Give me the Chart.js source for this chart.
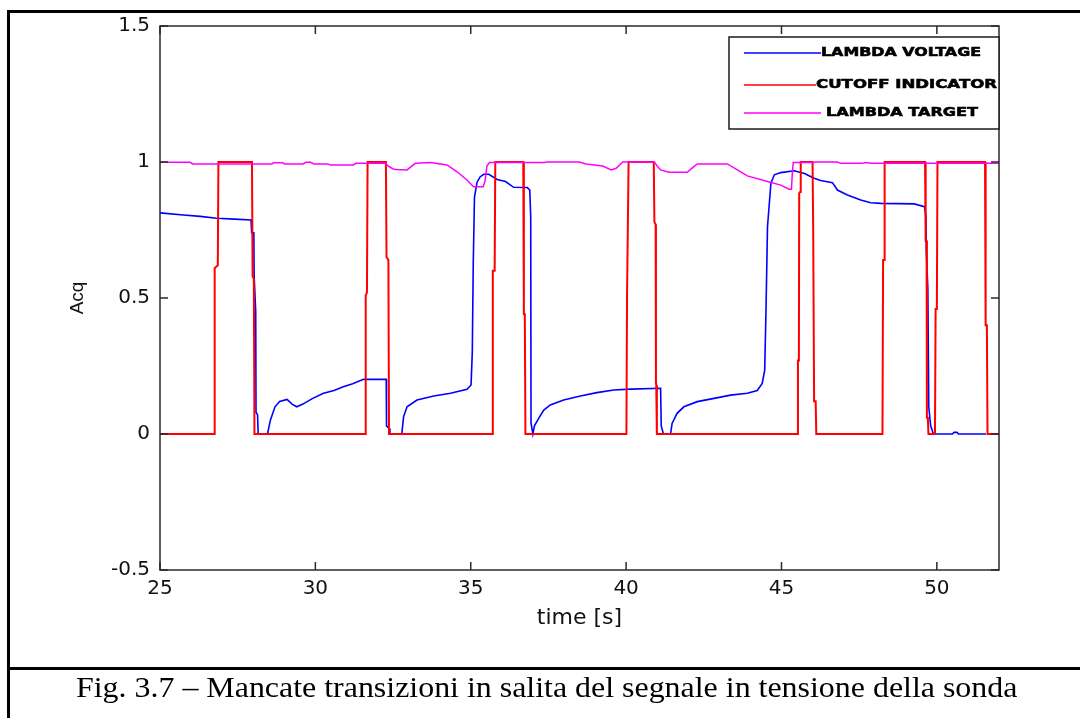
<!DOCTYPE html>
<html>
<head>
<meta charset="utf-8">
<script src="https://cdn.jsdelivr.net/npm/chart.js@4.4.1/dist/chart.umd.min.js"></script>
<style>
  html, body { margin: 0; padding: 0; background: #fff; }
  #page { position: relative; width: 1080px; height: 718px; overflow: hidden; }
  #plot { position: absolute; left: 0; top: 0; }
  .rule { position: absolute; background: #000; }
  #caption {
    position: absolute; left: 76px; top: 672px;
    font-family: "Liberation Serif", "Times New Roman", serif;
    font-size: 30px; line-height: 30px; white-space: nowrap; color: #000;
    transform: scaleX(1.064); transform-origin: left top;
  }
</style>
</head>
<body>
<div id="page">
  <canvas id="plot" width="1080" height="718"></canvas>
  <div class="rule" style="left:7px; top:10px; width:1073px; height:3px"></div>
  <div class="rule" style="left:7px; top:10px; width:3px; height:708px"></div>
  <div class="rule" style="left:7px; top:667px; width:1073px; height:3px"></div>
  <div id="caption">Fig. 3.7 – Mancate transizioni in salita del segnale in tensione della sonda</div>
</div>
<script>
// [time s, value]
const lambdaVoltage = [
  [25, 0.813], [25.75, 0.805], [26.3, 0.8], [26.82, 0.793], [27.4, 0.79], [27.93, 0.787],
  [27.95, 0.74], [28.02, 0.74], [28.03, 0.58], [28.08, 0.45], [28.09, 0.08], [28.14, 0.07], [28.16, 0],
  [28.46, 0], [28.55, 0.05], [28.7, 0.1], [28.85, 0.12], [29.09, 0.127], [29.25, 0.11], [29.4, 0.1],
  [29.6, 0.11], [29.9, 0.13], [30.26, 0.15], [30.6, 0.16], [30.9, 0.174], [31.2, 0.185], [31.55, 0.201],
  [32.28, 0.201], [32.29, 0.03], [32.38, 0.02], [32.4, 0],
  [32.78, 0], [32.84, 0.064], [32.95, 0.1], [33.27, 0.125], [33.81, 0.14], [34.35, 0.15], [34.88, 0.164],
  [35.01, 0.18], [35.05, 0.3], [35.08, 0.62], [35.12, 0.87], [35.2, 0.925], [35.3, 0.945], [35.42, 0.955],
  [35.58, 0.955], [35.85, 0.936], [36.12, 0.928], [36.38, 0.907], [36.82, 0.906], [36.9, 0.897],
  [36.93, 0.8], [36.94, 0.04], [37.0, 0], [37.05, 0.03], [37.2, 0.06], [37.35, 0.088], [37.56, 0.107],
  [37.99, 0.125], [38.53, 0.14], [39.06, 0.152], [39.6, 0.162], [40.14, 0.165], [41.11, 0.168],
  [41.13, 0.03], [41.2, 0], [41.43, 0], [41.48, 0.039], [41.64, 0.076], [41.86, 0.1], [42.29, 0.119],
  [42.83, 0.131], [43.36, 0.143], [43.9, 0.15], [44.22, 0.16], [44.38, 0.186], [44.46, 0.235],
  [44.5, 0.444], [44.55, 0.762], [44.66, 0.922], [44.77, 0.953], [44.98, 0.961], [45.41, 0.968],
  [45.74, 0.958], [46.05, 0.94], [46.26, 0.932], [46.64, 0.924], [46.8, 0.897], [47.12, 0.879],
  [47.55, 0.86], [47.87, 0.85], [48.2, 0.848], [49.27, 0.846], [49.6, 0.836], [49.65, 0.8],
  [49.66, 0.676], [49.71, 0.535], [49.74, 0.1], [49.8, 0.03], [49.89, 0],
  [50.5, 0], [50.55, 0.006], [50.65, 0.006], [50.7, 0], [51.58, 0]
];

const cutoffIndicator = [
  [25, 0], [26.74, 0], [26.76, 0.61], [26.86, 0.62], [26.88, 1],
  [27.96, 1], [27.98, 0.58], [28.02, 0.57], [28.04, 0],
  [31.6, 0], [31.62, 0.51], [31.66, 0.52], [31.68, 1],
  [32.27, 1], [32.29, 0.65], [32.35, 0.64], [32.37, 0],
  [35.69, 0], [35.71, 0.6], [35.77, 0.6], [35.79, 1],
  [36.69, 1], [36.71, 0.44], [36.74, 0.44], [36.76, 0],
  [40.01, 0], [40.03, 0.51], [40.06, 0.51], [40.08, 1],
  [40.89, 1], [40.91, 0.78], [40.95, 0.77], [40.96, 0.19], [40.97, 0.18], [40.99, 0],
  [45.51, 0], [45.53, 0.27], [45.56, 0.27], [45.57, 0.885], [45.6, 0.89], [45.62, 1],
  [46.0, 1], [46.02, 0.76], [46.04, 0.76], [46.05, 0.12], [46.1, 0.12], [46.12, 0],
  [48.25, 0], [48.27, 0.64], [48.3, 0.64], [48.32, 1],
  [49.62, 1], [49.64, 0.71], [49.67, 0.71], [49.68, 0.06], [49.71, 0.06], [49.73, 0],
  [49.94, 0], [49.96, 0.46], [50.0, 0.46], [50.02, 1],
  [51.55, 1], [51.57, 0.4], [51.61, 0.4], [51.63, 0], [52, 0]
];

const lambdaTarget = [
  [25, 0.999], [25.97, 0.999], [26.05, 0.993], [28.6, 0.993], [28.65, 0.997], [28.95, 0.997],
  [29.0, 0.993], [29.6, 0.993], [29.7, 0.999], [29.85, 0.999], [29.95, 0.993], [30.4, 0.993],
  [30.48, 0.989], [31.22, 0.989], [31.3, 0.995], [32.25, 0.995], [32.35, 0.985], [32.46, 0.977],
  [32.57, 0.972], [32.95, 0.971], [33.1, 0.985], [33.22, 0.995], [33.7, 0.998], [34.24, 0.989],
  [34.56, 0.964], [34.88, 0.934], [35.09, 0.909], [35.4, 0.909], [35.46, 0.93], [35.52, 0.985],
  [35.6, 0.998], [37.37, 0.998], [37.45, 1.0], [38.49, 1.0], [38.71, 0.993], [39.25, 0.985],
  [39.52, 0.971], [39.68, 0.977], [39.89, 1.0], [40.91, 1.0], [41.0, 0.985], [41.11, 0.971],
  [41.38, 0.962], [41.97, 0.962], [42.15, 0.98], [42.29, 0.993], [43.26, 0.993], [43.58, 0.971],
  [43.9, 0.949], [44.55, 0.928], [44.98, 0.915], [45.24, 0.9], [45.32, 0.9], [45.35, 0.96],
  [45.38, 0.998], [46.0, 0.998], [46.1, 1.0], [46.8, 1.0], [46.9, 0.995], [47.6, 0.995],
  [47.7, 0.998], [47.9, 0.995], [52, 0.995]
];

const seriesNames = ['LAMBDA VOLTAGE', 'CUTOFF INDICATOR', 'LAMBDA TARGET'];
const seriesColors = ['#0000ff', '#ff0000', '#ff00ff'];

const toPoints = rows => rows.map(r => ({ x: r[0], y: r[1] }));

// matlab style box: frame round the plot area, ticks pointing inwards on all four sides
const axesBox = {
  id: 'axesBox',
  afterDatasetsDraw(chart) {
    const { ctx, chartArea: a, scales: { x, y } } = chart;
    const len = 8;
    ctx.save();
    ctx.strokeStyle = '#2a2a2a';
    ctx.lineWidth = 1.5;
    ctx.strokeRect(a.left, a.top, a.right - a.left, a.bottom - a.top);
    ctx.beginPath();
    x.ticks.forEach(t => {
      const px = x.getPixelForValue(t.value);
      ctx.moveTo(px, a.bottom); ctx.lineTo(px, a.bottom - len);
      ctx.moveTo(px, a.top); ctx.lineTo(px, a.top + len);
    });
    y.ticks.forEach(t => {
      const py = y.getPixelForValue(t.value);
      ctx.moveTo(a.left, py); ctx.lineTo(a.left + len, py);
      ctx.moveTo(a.right, py); ctx.lineTo(a.right - len, py);
    });
    ctx.stroke();
    ctx.restore();
  }
};

// boxed legend in the top right corner, wide bold labels
const legendRows = [
  { lineEnd: 92, textX: 92, textW: 160, dy: 16 },
  { lineEnd: 87, textX: 87, textW: 181, dy: 48 },
  { lineEnd: 92, textX: 97, textW: 152, dy: 76 }
];

const legendBox = {
  id: 'legendBox',
  afterDraw(chart) {
    const { ctx, chartArea: a } = chart;
    const w = 270, h = 92;
    const left = a.right - w, top = a.top + 11;
    ctx.save();
    ctx.fillStyle = '#fff';
    ctx.fillRect(left, top, w, h);
    ctx.strokeStyle = '#1a1a1a';
    ctx.lineWidth = 1.5;
    ctx.strokeRect(left, top, w, h);
    chart.data.datasets.forEach((ds, i) => {
      const row = legendRows[i];
      const yy = top + row.dy;
      ctx.strokeStyle = ds.borderColor;
      ctx.lineWidth = 1.5;
      ctx.beginPath();
      ctx.moveTo(left + 15, yy);
      ctx.lineTo(left + row.lineEnd, yy);
      ctx.stroke();
      ctx.font = 'bold 12.5px "DejaVu Sans"';
      ctx.fillStyle = '#000';
      ctx.strokeStyle = '#000';
      ctx.lineWidth = 0.6;
      ctx.textBaseline = 'middle';
      const tw = ctx.measureText(ds.label).width;
      ctx.save();
      ctx.translate(left + row.textX, yy);
      ctx.scale(row.textW / tw, 1);
      ctx.fillText(ds.label, 0, 0);
      ctx.strokeText(ds.label, 0, 0);
      ctx.restore();
    });
    ctx.restore();
  }
};

const tickFont = { family: '"DejaVu Sans"', size: 20 };

new Chart(document.getElementById('plot'), {
  type: 'line',
  data: {
    datasets: [
      { label: seriesNames[0], data: toPoints(lambdaVoltage), borderColor: seriesColors[0], borderWidth: 1.6, order: 3 },
      { label: seriesNames[1], data: toPoints(cutoffIndicator), borderColor: seriesColors[1], borderWidth: 2, order: 2 },
      { label: seriesNames[2], data: toPoints(lambdaTarget), borderColor: seriesColors[2], borderWidth: 1.5, order: 1 }
    ]
  },
  options: {
    responsive: false,
    animation: false,
    events: [],
    layout: { padding: { left: 0, top: 26, right: 81, bottom: 0 } },
    elements: { point: { radius: 0 }, line: { tension: 0 } },
    plugins: { legend: { display: false }, tooltip: { enabled: false } },
    scales: {
      x: {
        type: 'linear',
        min: 25,
        max: 52,
        grid: { display: false, drawTicks: false },
        border: { display: false },
        ticks: { stepSize: 5, includeBounds: false, padding: 7, color: '#111', font: tickFont, maxRotation: 0 },
        title: { display: true, text: 'time [s]', color: '#111', font: { family: '"DejaVu Sans"', size: 22 }, padding: { top: 0, bottom: 87 } },
        afterFit(scale) { scale.height = 148; }
      },
      y: {
        min: -0.5,
        max: 1.5,
        grid: { display: false, drawTicks: false },
        border: { display: false },
        ticks: { stepSize: 0.5, padding: 10, color: '#111', font: tickFont, callback: v => String(v) },
        title: { display: true, text: 'Acq', color: '#111', font: { family: '"Liberation Sans"', size: 19 }, padding: { top: 66, bottom: 0 } },
        afterFit(scale) { scale.width = 160; }
      }
    }
  },
  plugins: [axesBox, legendBox]
});
</script>
</body>
</html>
